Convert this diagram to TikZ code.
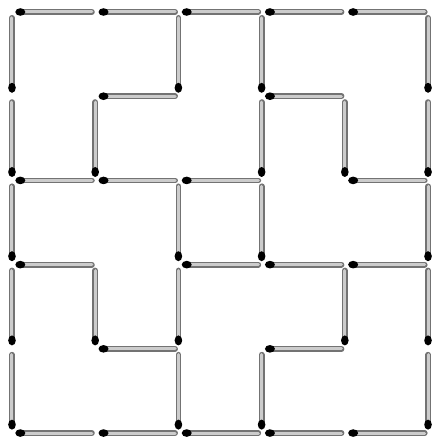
\documentclass[tikz,border=0pt]{standalone}
\tikzset{
  matchstick/.style={draw=black!55, line width=1.4pt, double=black!20,
    double distance=3pt, line cap=round},
  matchhead/.style={fill=black},
}
% one match from (#1,#2) to the next grid point, head at the left / bottom
\newcommand{\hmatch}[2]{%
  \draw[matchstick] ({#1+0.1},#2) -- ({#1+0.96},#2);
  \fill[matchhead] ({#1+0.1},#2) ellipse (5pt and 3.8pt);}
\newcommand{\vmatch}[2]{%
  \draw[matchstick] (#1,{#2+0.07}) -- (#1,{#2+0.9});
  \fill[matchhead] (#1,{#2+0.9}) ellipse (3.8pt and 5pt);}
\begin{document}
\begin{tikzpicture}[x=83.2pt, y=-84.2pt]
  \useasboundingbox (-0.144,-0.1425) rectangle (5.084,5.047);
  % frame
  \foreach \k in {0,1,2,3,4} {
    \hmatch{\k}{0} \hmatch{\k}{5}
    \vmatch{0}{\k} \vmatch{5}{\k}
  }
  % inside
  \foreach \i/\j in {1/1, 3/1, 0/2, 1/2, 2/2, 4/2, 0/3, 2/3, 3/3, 4/3, 1/4, 3/4}
    \hmatch{\i}{\j};
  \foreach \i/\j in {2/0, 3/0, 1/1, 3/1, 4/1, 2/2, 3/2, 1/3, 2/3, 4/3, 2/4, 3/4}
    \vmatch{\i}{\j};
\end{tikzpicture}
\end{document}
